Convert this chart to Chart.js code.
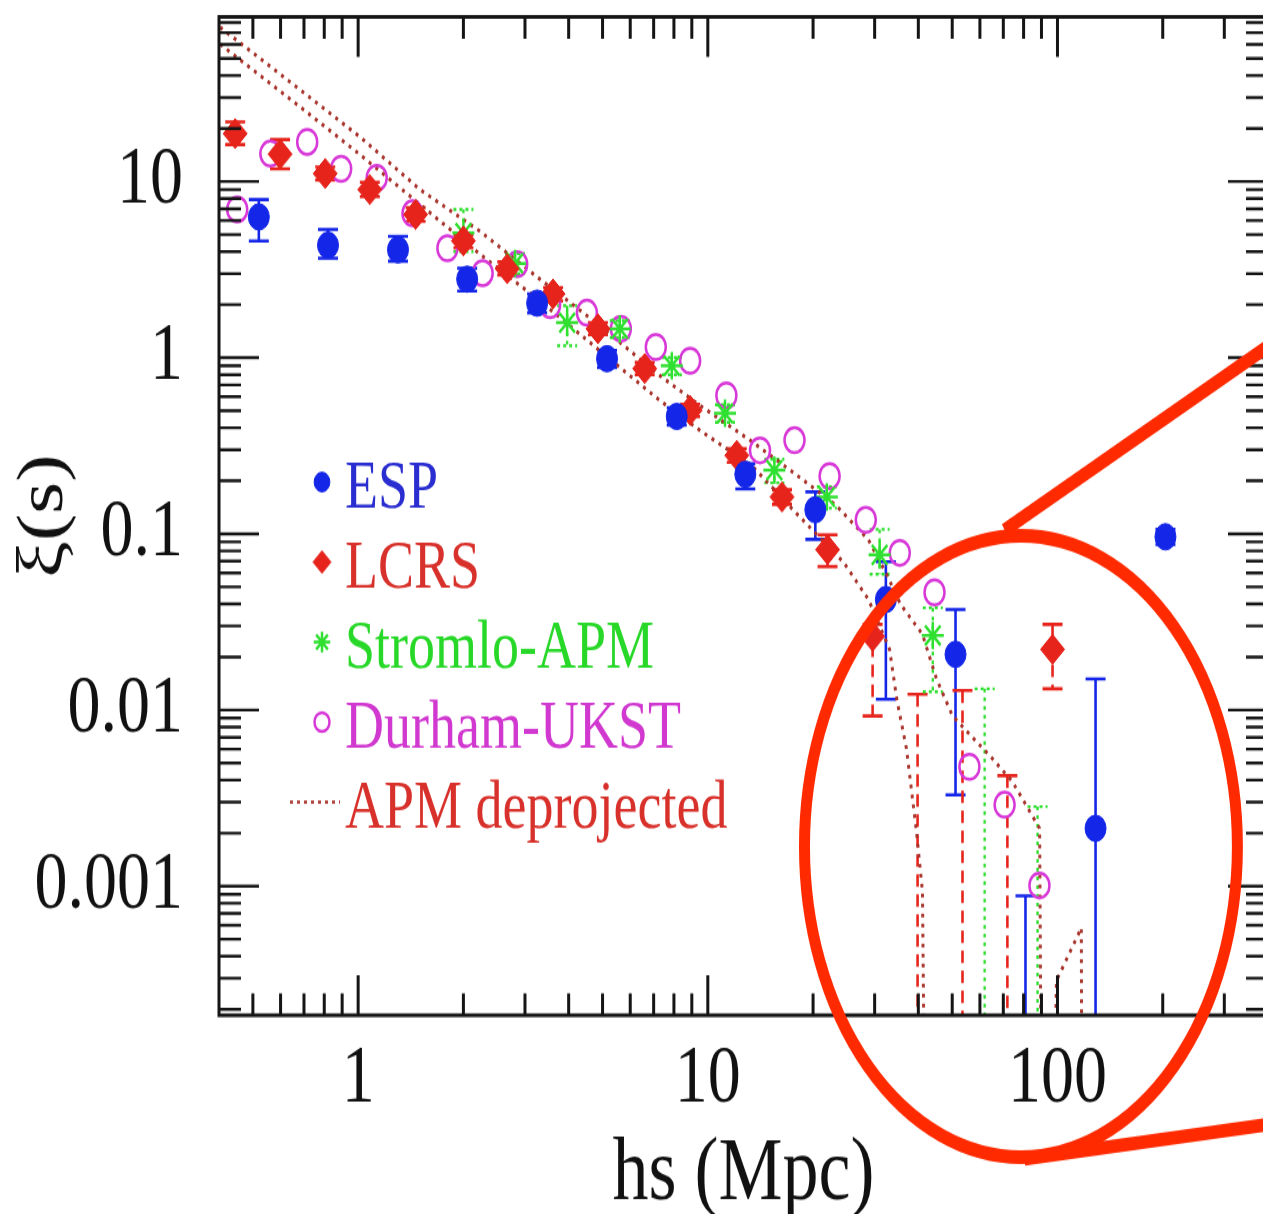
<!DOCTYPE html>
<html>
<head>
<meta charset="utf-8">
<script src="https://cdn.jsdelivr.net/npm/chart.js@4.4.0/dist/chart.umd.min.js"></script>
<style>
    html, body { margin: 0; padding: 0; background: #fff; overflow: hidden; }
    #wrap { width: 1263px; height: 1214px; overflow: hidden; position: relative; }
    /* the original figure is stretched vertically, so draw short and stretch */
    #chart { position: absolute; left: 0; top: 0; transform-origin: 0 0; transform: scaleY(1.2503); }
</style>
</head>
<body>
<div id="wrap"><canvas id="chart" width="1300" height="971"></canvas></div>
<script>
// ========================================
// DATA
// ========================================

// ESP - filled circles
const espX  = [0.52, 0.82, 1.30, 2.05, 3.25, 5.15, 8.15, 12.8, 20.3, 32.3, 51.1, 81.0, 128.5, 203.6];
const espY  = [6.3, 4.35, 4.1, 2.79, 2.04, 0.987, 0.464, 0.218, 0.137, 0.0424, 0.0207, null, 0.00213, 0.0962];
const espHi = [7.9, 5.35, 4.89, 3.22, 2.3, 1.1, 0.52, 0.25, 0.173, 0.0694, 0.0372, 0.00088, 0.0150, 0.106];
const espLo = [4.6, 3.67, 3.53, 2.39, 1.8, 0.88, 0.415, 0.18, 0.093, 0.0115, 0.0033, 1e-6, 1e-6, 0.087];

// LCRS - filled diamonds
const lcrsX  = [0.445, 0.598, 0.805, 1.08, 1.46, 2.0, 2.67, 3.61, 4.85, 6.6, 8.9, 12.1, 16.3, 22.0, 29.6, 39.8, 53.5, 71.9, 96.8];
const lcrsY  = [18.7, 14.3, 11.1, 9.0, 6.5, 4.6, 3.2, 2.30, 1.46, 0.867, 0.502, 0.279, 0.162, 0.0813, 0.0262, null, null, null, 0.0221];
const lcrsHi = [21.8, 17.3, 12.1, 9.9, 7.1, 5.0, 3.5, 2.5, 1.58, 0.94, 0.545, 0.305, 0.178, 0.0986, 0.0306, 0.0123, 0.0129, 0.00424, 0.0306];
const lcrsLo = [16.2, 11.8, 10.2, 8.2, 5.95, 4.2, 2.95, 2.1, 1.35, 0.80, 0.462, 0.255, 0.147, 0.0652, 0.00925, 1e-6, 1e-6, 1e-6, 0.0132];

// Stromlo-APM - asterisks
const stromloX  = [2.0, 2.81, 3.96, 5.6, 7.89, 11.2, 15.5, 21.9, 31.0, 44.0, 61.9, 87.7];
const stromloY  = [5.1, 3.43, 1.58, 1.46, 0.90, 0.483, 0.230, 0.162, 0.076, 0.0265, null, null];
const stromloHi = [6.95, 3.9, 1.97, 1.62, 1.0, 0.54, 0.265, 0.185, 0.106, 0.038, 0.0132, 0.00283];
const stromloLo = [4.0, 3.0, 1.17, 1.3, 0.80, 0.43, 0.195, 0.14, 0.059, 0.0127, 1e-6, 1e-6];

// Durham-UKST - open circles
const durhamX = [0.451, 0.561, 0.715, 0.894, 1.13, 1.43, 1.80, 2.27, 2.85, 3.54, 4.51, 5.64, 7.1, 8.9, 11.3, 14.1, 17.7, 22.3, 28.3, 35.4, 44.5, 56.0, 70.6, 88.8];
const durhamY = [6.95, 14.4, 16.8, 11.8, 10.5, 6.6, 4.18, 3.02, 3.40, 1.99, 1.80, 1.46, 1.15, 0.96, 0.61, 0.298, 0.34, 0.213, 0.12, 0.078, 0.0465, 0.00476, 0.0029, 0.00101];

// APM deprojected - two dotted curves (1e-6 = drops below the axis)
const apmUpperX = [0.403, 0.683, 1.013, 1.503, 2.23, 3.31, 4.91, 7.29, 9.49, 13.2, 17.2, 23.2, 28.8, 32.5, 35.6, 41.1, 45.1, 50.1, 65.2, 74.3, 88.9, 91.0];
const apmUpperY = [75.1, 33.1, 17.9, 9.0, 5.22, 2.79, 1.52, 0.791, 0.536, 0.340, 0.230, 0.146, 0.0925, 0.0586, 0.0397, 0.0269, 0.0150, 0.00925, 0.00529, 0.00392, 0.00213, 1e-6];
const apmLowerX = [0.403, 0.683, 1.013, 1.503, 2.23, 3.31, 4.91, 7.29, 9.49, 13.5, 17.9, 24.5, 28.8, 33.1, 34.7, 37.0, 39.5, 41.1, 42.5, 94.8, 99.3, 117, 118];
const apmLowerY = [60.2, 26.5, 14.2, 7.41, 3.87, 2.10, 1.095, 0.572, 0.387, 0.239, 0.131, 0.0686, 0.0424, 0.0221, 0.01153, 0.00603, 0.00205, 0.000937, 1e-6, 1e-6, 0.00029, 0.00058, 1e-6];

// Axes
const xMajorValues = [1, 10, 100];
const xTickLabels = ['1', '10', '100'];
const yMajorValues = [0.001, 0.01, 0.1, 1, 10];
const yTickLabels = ['0.001', '0.01', '0.1', '1', '10'];
const xDecades = [0.1, 1, 10, 100];
const yDecades = [1e-4, 1e-3, 0.01, 0.1, 1, 10];

// Legend
const legendLabels = ['ESP', 'LCRS', 'Stromlo-APM', 'Durham-UKST', 'APM deprojected'];

// Callout drawn over the figure (in data units)
const calloutEllipse = { xMin: 18.9, xMax: 327, yMin: 2.9e-5, yMax: 0.0974 };
const calloutLines = [
    [70.6, 0.105, 491, 1.54],
    [80.5, 2.83e-5, 491, 4.7e-5]
];

// ========================================
// STYLE
// ========================================
const BLUE = '#1426e8';
const RED = '#e6241c';
const GREEN = '#30e030';
const MAGENTA = '#d838d8';
const APM = '#a8342c';
const legendTextColors = ['#2a2ed0', '#d8302a', '#28d828', '#d038d0', '#d8302a'];
const FONT = "'Liberation Serif', 'Times New Roman', serif";

Chart.defaults.font.family = FONT;
Chart.defaults.color = '#111';

// Helpers
const pts = (xs, ys) => xs.map((x, i) => ({ x, y: ys[i] }));

const logTicks = (decades, min, max) => {
    const out = [];
    decades.forEach(d => {
        for (let k = 1; k <= 9; k++) {
            const v = k * d;
            if (v >= min * 0.999 && v <= max * 1.001) out.push({ value: v, major: k === 1 });
        }
    });
    return out;
};

const labelFor = (v, majors, labels) => {
    const i = majors.findIndex(m => Math.abs(v / m - 1) < 1e-9);
    return i >= 0 ? labels[i] : '';
};

const X_MIN = 0.4, X_MAX = 400;
const Y_MIN = 1.85e-4, Y_MAX = 86;

// Error bar series
const errorSeries = [
    { xs: espX, hi: espHi, lo: espLo, color: BLUE, width: 2.6, dash: [], dashFrom: Infinity, capDash: [] },
    { xs: lcrsX, hi: lcrsHi, lo: lcrsLo, color: RED, width: 2.6, dash: [10, 6], dashFrom: 25, capDash: [] },
    { xs: stromloX, hi: stromloHi, lo: stromloLo, color: GREEN, width: 2.4, dash: [3, 4], dashFrom: 0, capDash: [3, 3] }
];

// ========================================
// PLUGINS
// ========================================
const errorBars = {
    id: 'errorBars',
    beforeDatasetsDraw(chart) {
        const { ctx, chartArea: a, scales: { x, y } } = chart;
        ctx.save();
        ctx.beginPath();
        ctx.rect(a.left, a.top, a.right - a.left, a.bottom - a.top);
        ctx.clip();
        errorSeries.forEach(s => {
            ctx.strokeStyle = s.color;
            ctx.lineWidth = s.width;
            s.xs.forEach((xv, i) => {
                const px = x.getPixelForValue(xv);
                const pHi = y.getPixelForValue(s.hi[i]);
                const pLo = y.getPixelForValue(s.lo[i]);
                ctx.setLineDash(xv >= s.dashFrom ? s.dash : []);
                ctx.beginPath();
                ctx.moveTo(px, pHi);
                ctx.lineTo(px, pLo);
                ctx.stroke();
                ctx.setLineDash(s.capDash);
                ctx.beginPath();
                ctx.moveTo(px - 10, pHi); ctx.lineTo(px + 10, pHi);
                ctx.moveTo(px - 10, pLo); ctx.lineTo(px + 10, pLo);
                ctx.stroke();
            });
        });
        ctx.restore();
    }
};

const frameTicks = {
    id: 'frameTicks',
    afterDatasetsDraw(chart) {
        const { ctx, chartArea: a, scales: { x, y } } = chart;
        ctx.save();
        ctx.strokeStyle = '#151515';
        ctx.setLineDash([]);
        ctx.lineWidth = 3;
        x.ticks.forEach(t => {
            const px = x.getPixelForValue(t.value);
            if (px <= a.left + 2 || px >= a.right - 2) return;
            const len = t.major ? 32 : 17.5;
            ctx.beginPath();
            ctx.moveTo(px, a.bottom); ctx.lineTo(px, a.bottom - len);
            ctx.moveTo(px, a.top); ctx.lineTo(px, a.top + len);
            ctx.stroke();
        });
        ctx.lineWidth = 2.4;
        y.ticks.forEach(t => {
            const py = y.getPixelForValue(t.value);
            if (py <= a.top + 2 || py >= a.bottom - 2) return;
            const len = t.major ? 40 : 22;
            ctx.beginPath();
            ctx.moveTo(a.left, py); ctx.lineTo(a.left + len, py);
            ctx.moveTo(a.right, py); ctx.lineTo(a.right - len, py);
            ctx.stroke();
        });
        ctx.lineWidth = 3;
        ctx.strokeRect(a.left, a.top, a.right - a.left, a.bottom - a.top);
        ctx.restore();
    }
};

const legendBox = {
    id: 'legendBox',
    afterDraw(chart) {
        const { ctx, chartArea: a } = chart;
        const markerX = a.left + 103;
        const textX = a.left + 126;
        ctx.save();
        ctx.font = `54px ${FONT}`;
        ctx.textBaseline = 'alphabetic';
        ctx.textAlign = 'left';
        legendLabels.forEach((label, i) => {
            const base = a.top + 392 + i * 64;
            const my = base - 20;
            const ds = chart.data.datasets[i];
            if (ds.showLine) {
                ctx.strokeStyle = ds.borderColor;
                ctx.lineWidth = 2.5;
                ctx.setLineDash([3, 4]);
                ctx.beginPath();
                ctx.moveTo(a.left + 71, my);
                ctx.lineTo(a.left + 121, my);
                ctx.stroke();
                ctx.setLineDash([]);
            } else {
                ctx.fillStyle = ds.pointBackgroundColor;
                ctx.strokeStyle = ds.pointBorderColor;
                ctx.lineWidth = ds.pointBorderWidth;
                Chart.helpers.drawPoint(ctx, {
                    pointStyle: ds.pointStyle, radius: ds.pointRadius * 0.75,
                    rotation: 0, borderWidth: ds.pointBorderWidth
                }, markerX, my);
            }
            ctx.fillStyle = legendTextColors[i];
            ctx.fillText(label, textX, base);
        });
        ctx.restore();
    }
};

const callout = {
    id: 'callout',
    afterDraw(chart) {
        const { ctx, scales: { x, y } } = chart;
        const l = x.getPixelForValue(calloutEllipse.xMin);
        const r = x.getPixelForValue(calloutEllipse.xMax);
        const t = y.getPixelForValue(calloutEllipse.yMax);
        const b = y.getPixelForValue(calloutEllipse.yMin);
        ctx.save();
        ctx.strokeStyle = '#ff2a00';
        ctx.lineWidth = 11;
        ctx.beginPath();
        ctx.ellipse((l + r) / 2, (t + b) / 2, (r - l) / 2, (b - t) / 2, 0, 0, Math.PI * 2);
        ctx.stroke();
        calloutLines.forEach(([x0, y0, x1, y1]) => {
            ctx.beginPath();
            ctx.moveTo(x.getPixelForValue(x0), y.getPixelForValue(y0));
            ctx.lineTo(x.getPixelForValue(x1), y.getPixelForValue(y1));
            ctx.stroke();
        });
        ctx.restore();
    }
};

// ========================================
// CHART
// ========================================
const lineStyle = { showLine: true, pointRadius: 0, borderColor: APM, borderWidth: 3, borderDash: [3, 5], tension: 0, clip: 0 };

new Chart(document.getElementById('chart'), {
    type: 'scatter',
    data: {
        datasets: [
            { label: 'ESP', data: pts(espX, espY), pointStyle: 'circle', pointRadius: 10.5,
              pointBackgroundColor: BLUE, pointBorderColor: BLUE, pointBorderWidth: 1, clip: 0 },
            { label: 'LCRS', data: pts(lcrsX, lcrsY), pointStyle: 'rectRot', pointRadius: 12,
              pointBackgroundColor: RED, pointBorderColor: RED, pointBorderWidth: 1, clip: 0 },
            { label: 'Stromlo-APM', data: pts(stromloX, stromloY), pointStyle: 'star', pointRadius: 11,
              pointBackgroundColor: GREEN, pointBorderColor: GREEN, pointBorderWidth: 2.5, clip: 0 },
            { label: 'Durham-UKST', data: pts(durhamX, durhamY), pointStyle: 'circle', pointRadius: 10,
              pointBackgroundColor: 'rgba(0,0,0,0)', pointBorderColor: MAGENTA, pointBorderWidth: 2.5, clip: 0 },
            { label: 'APM deprojected', data: pts(apmUpperX, apmUpperY), ...lineStyle },
            { label: 'APM deprojected (lower)', data: pts(apmLowerX, apmLowerY), ...lineStyle }
        ]
    },
    options: {
        responsive: false,
        animation: false,
        devicePixelRatio: 1,
        events: [],
        layout: { padding: { left: 0, right: 32, top: 10.4, bottom: 0 } },
        plugins: { legend: { display: false }, tooltip: { enabled: false } },
        scales: {
            x: {
                type: 'logarithmic',
                min: X_MIN,
                max: X_MAX,
                afterBuildTicks: s => { s.ticks = logTicks(xDecades, X_MIN, X_MAX); },
                afterFit: s => { s.height = 159; s.paddingLeft = 0; s.paddingRight = 0; },
                grid: { display: false, drawTicks: false },
                border: { display: false },
                ticks: {
                    autoSkip: false, maxRotation: 0, minRotation: 0, padding: 19, color: '#111',
                    font: { family: FONT, size: 66, lineHeight: 1 },
                    callback: v => labelFor(v, xMajorValues, xTickLabels)
                },
                title: {
                    display: true, text: 'hs (Mpc)', color: '#111',
                    font: { family: FONT, size: 72, lineHeight: 0.85 }, padding: 0
                }
            },
            y: {
                type: 'logarithmic',
                min: Y_MIN,
                max: Y_MAX,
                afterBuildTicks: s => { s.ticks = logTicks(yDecades, Y_MIN, Y_MAX); },
                afterFit: s => { s.width = 219; s.paddingTop = 0; s.paddingBottom = 0; },
                grid: { display: false, drawTicks: false },
                border: { display: false },
                ticks: {
                    autoSkip: false, padding: 36, color: '#111',
                    font: { family: FONT, size: 66, lineHeight: 1 },
                    callback: v => labelFor(v, yMajorValues, yTickLabels)
                },
                title: {
                    display: true, text: 'ξ(s)', color: '#111',
                    font: { family: FONT, size: 66, lineHeight: 1 }, padding: { top: 12, bottom: 0 }
                }
            }
        }
    },
    plugins: [errorBars, frameTicks, legendBox, callout]
});
</script>
</body>
</html>
